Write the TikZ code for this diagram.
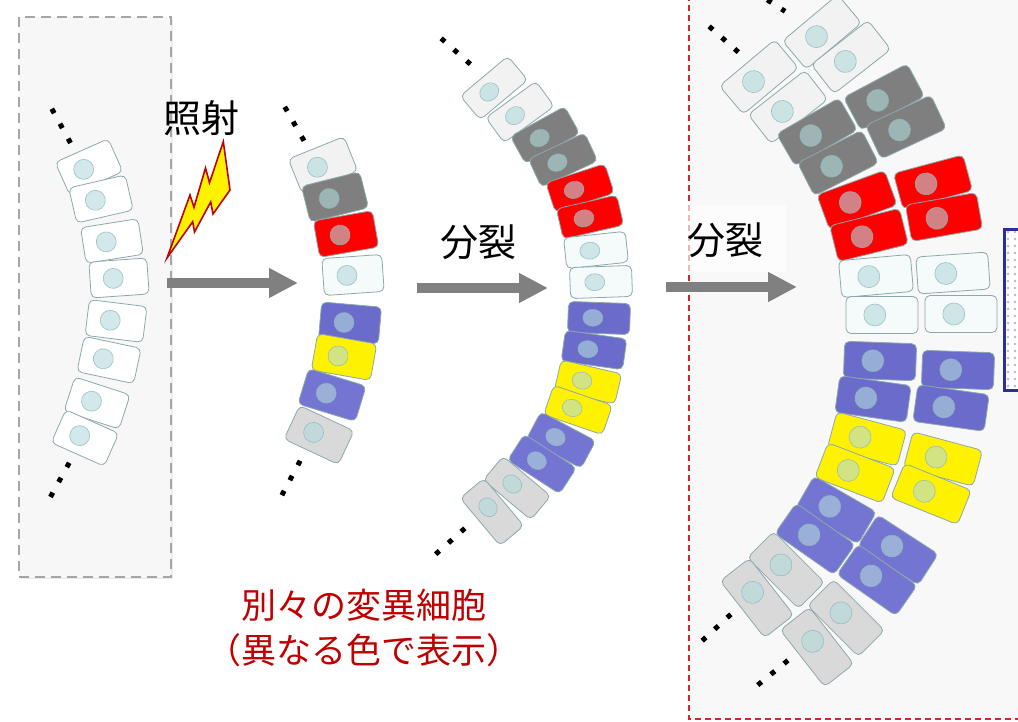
\documentclass[tikz,border=0pt]{standalone}
\usepackage{fontspec}
\setmainfont{Noto Sans CJK JP}
\usetikzlibrary{arrows.meta,patterns.meta,shadows}

\definecolor{rim}{HTML}{8DA8AB}
\definecolor{nuc}{HTML}{B4D9DC}
\definecolor{nucrim}{HTML}{8DB5B9}
\definecolor{paleg}{HTML}{F2F2F2}
\definecolor{darkg}{HTML}{7F7F7F}
\definecolor{pale}{HTML}{F5FAFB}
\definecolor{blu}{HTML}{6B6BCC}
\definecolor{blub}{HTML}{7474D2}
\definecolor{lightg}{HTML}{D9D9D9}
\definecolor{mutred}{HTML}{C00000}
\definecolor{arrowg}{HTML}{808080}
\definecolor{boxline}{HTML}{A6A6A6}
\definecolor{panelbg}{HTML}{F8F8F8}
\definecolor{framered}{HTML}{D02828}
\definecolor{navy}{HTML}{2E2E9A}
\definecolor{lilac}{HTML}{B4B4E6}

\tikzset{
  cell/.style={draw=rim,line width=0.8pt,rounded corners=5pt},
  nucleus/.style={draw=nucrim,fill=nuc,line width=0.6pt,fill opacity=0.6,draw opacity=0.8},
  dotrow/.style={line width=5pt,dash pattern=on 5pt off 12pt,shorten <=-2.5pt,shorten >=-2.5pt},
  bigarrow/.style={draw=arrowg,line width=10pt,-{Triangle[length=29pt,width=28pt]}},
  jptext/.style={font=\fontsize{38}{42}\selectfont,inner sep=0pt},
}

% one cell: centre x, centre y, tilt, fill
\newcommand{\drawcell}[4]{%
  \begin{scope}[shift={(#1,#2)},rotate=#3]
    \draw[cell,fill=#4] (-\cellw/2,-\cellh/2) rectangle (\cellw/2,\cellh/2);
    \draw[nucleus] (-0.1*\cellw,0) ellipse [x radius=\nucx,y radius=\nucy];
  \end{scope}}

\begin{document}
\begin{tikzpicture}[x=1pt,y=-1pt]
\useasboundingbox (0,0) rectangle (1018,722);
\fill[white] (0,0) rectangle (1018,722);

% backgrounds
\draw[boxline,line width=2.8pt,dash pattern=on 10pt off 6pt,fill=paleg!60,
  drop shadow={opacity=0.15,shadow xshift=1.5pt,shadow yshift=-2pt}]
  (19,17) rectangle (171,577);
\fill[panelbg] (689,-5) rectangle (1025,719);
\draw[framered,line width=2pt,dash pattern=on 6pt off 4pt] (689,-5) -- (689,719) -- (1025,719);
\draw[navy,line width=3pt,preaction={fill=white},
  pattern={Dots[radius=1.4pt,distance=7pt]},pattern color=lilac]
  (1004,230) rectangle (1030,390);

% arrows
\coordinate (irr-a) at (167,283);
\coordinate (irr-b) at (298,283);
\coordinate (div1-a) at (417,288);
\coordinate (div1-b) at (548,288);
\coordinate (div2-a) at (666,287);
\coordinate (div2-b) at (797,287);
\draw[bigarrow] (irr-a) -- (irr-b);
\draw[bigarrow] (div1-a) -- (div1-b);
\fill[white,opacity=0.65] (682,205) rectangle (786,272);
\draw[bigarrow] (div2-a) -- (div2-b);

% lightning
\draw[fill=yellow,draw=mutred,line width=1.6pt,line join=miter]
  (167,258) -- (190,195) -- (194,207.3) -- (205.5,168) -- (209.5,182.7)
  -- (223.3,141.7) -- (230,190) -- (213,214) -- (210.7,202)
  -- (194.5,232) -- (192.7,221.7) -- cycle;

% tissue before
\def\cellw{58}\def\cellh{36}\def\nucx{10}\def\nucy{10}
\foreach \x/\y/\a/\c in {89/167/24/white,101/199/13/white,112/241/9/white,119/278/4/white,
  116/321/-7/white,109/360/-12/white,97/403/-18/white,85/438/-24/white}
  \drawcell{\x}{\y}{\a}{\c};
\draw[dotrow] (53,111) -- (70,142);
\draw[dotrow] (68,465) -- (51,496);

% after irradiation
\def\cellw{60}\def\cellh{37}
\foreach \x/\y/\a/\c in {323/165/22/paleg,335/197/14/darkg,346/234/10/red,353/275/4/pale,
  350/323/-5/blu,344/357/-10/yellow,332/395/-17/blub,319/435/-25/lightg}
  \drawcell{\x}{\y}{\a}{\c};
\draw[dotrow] (286,109) -- (303,139);
\draw[dotrow] (299,463) -- (283,493);

% first division
\def\cellw{62}\def\cellh{31}\def\nucx{10}\def\nucy{8.5}
\foreach \x/\y/\a/\c in {494/88/40/paleg,520/112/36/paleg,545/135/29/darkg,563/160/25/darkg,
  580/188/18/red,590/217/13/red,596/250/6/pale,601/282/2/pale,
  599/318/-2/blu,594/350/-8/blu,588/382/-13/yellow,578/410/-19/yellow,
  561/440/-28/blub,542/464/-33/blub,517/488/-40/lightg,492/512/-50/lightg}
  \drawcell{\x}{\y}{\a}{\c};
\draw[dotrow] (443,40) -- (469,63);
\draw[dotrow] (463,530) -- (437,553);

% second division, two layers
\def\cellw{72}\def\cellh{37}\def\nucx{11}\def\nucy{11}
\foreach \x/\y/\a/\c in {759/77/40/paleg,788/107/38/paleg,817/132/30/darkg,838/163/27/darkg,
  857/200/20/red,869/235/14/red,876/276/5/pale,882/315/0/pale,
  880/361/-2/blu,873/399/-8/blu,867/439/-15/yellow,855/473/-21/yellow,
  836/510/-30/blub,815/539/-35/blub,786/570/-45/lightg,757/598/-52/lightg}
  \drawcell{\x}{\y}{\a}{\c};
\foreach \x/\y/\a/\c in {822/32/40/paleg,851/57/38/paleg,884/97/28/darkg,906/127/25/darkg,
  933/182/15/red,944/217/10/red,953/273/4/pale,961/314/0/pale,
  958/370/-2/blu,951/408/-8/blu,943/459/-15/yellow,931/494/-22/yellow,
  898/550/-33/blub,877/580/-35/blub,846/618/-45/lightg,817/647/-52/lightg}
  \drawcell{\x}{\y}{\a}{\c};
\draw[dotrow] (711,28) -- (737,51);
\draw[dotrow] (755,-8) -- (783,10);
\draw[dotrow] (729,616) -- (703,640);
\draw[dotrow] (786,662) -- (759,684);

% labels
\node[jptext] (irr) at (201,118) {照射};
\node[jptext] (div1) at (478,242) {分裂};
\node[jptext] (div2) at (725,240) {分裂};
\node[font=\fontsize{35}{45}\selectfont,text=mutred,align=center,inner sep=0pt] (note)
  at (364,628) {別々の変異細胞\\（異なる色で表示）};
\end{tikzpicture}
\end{document}
